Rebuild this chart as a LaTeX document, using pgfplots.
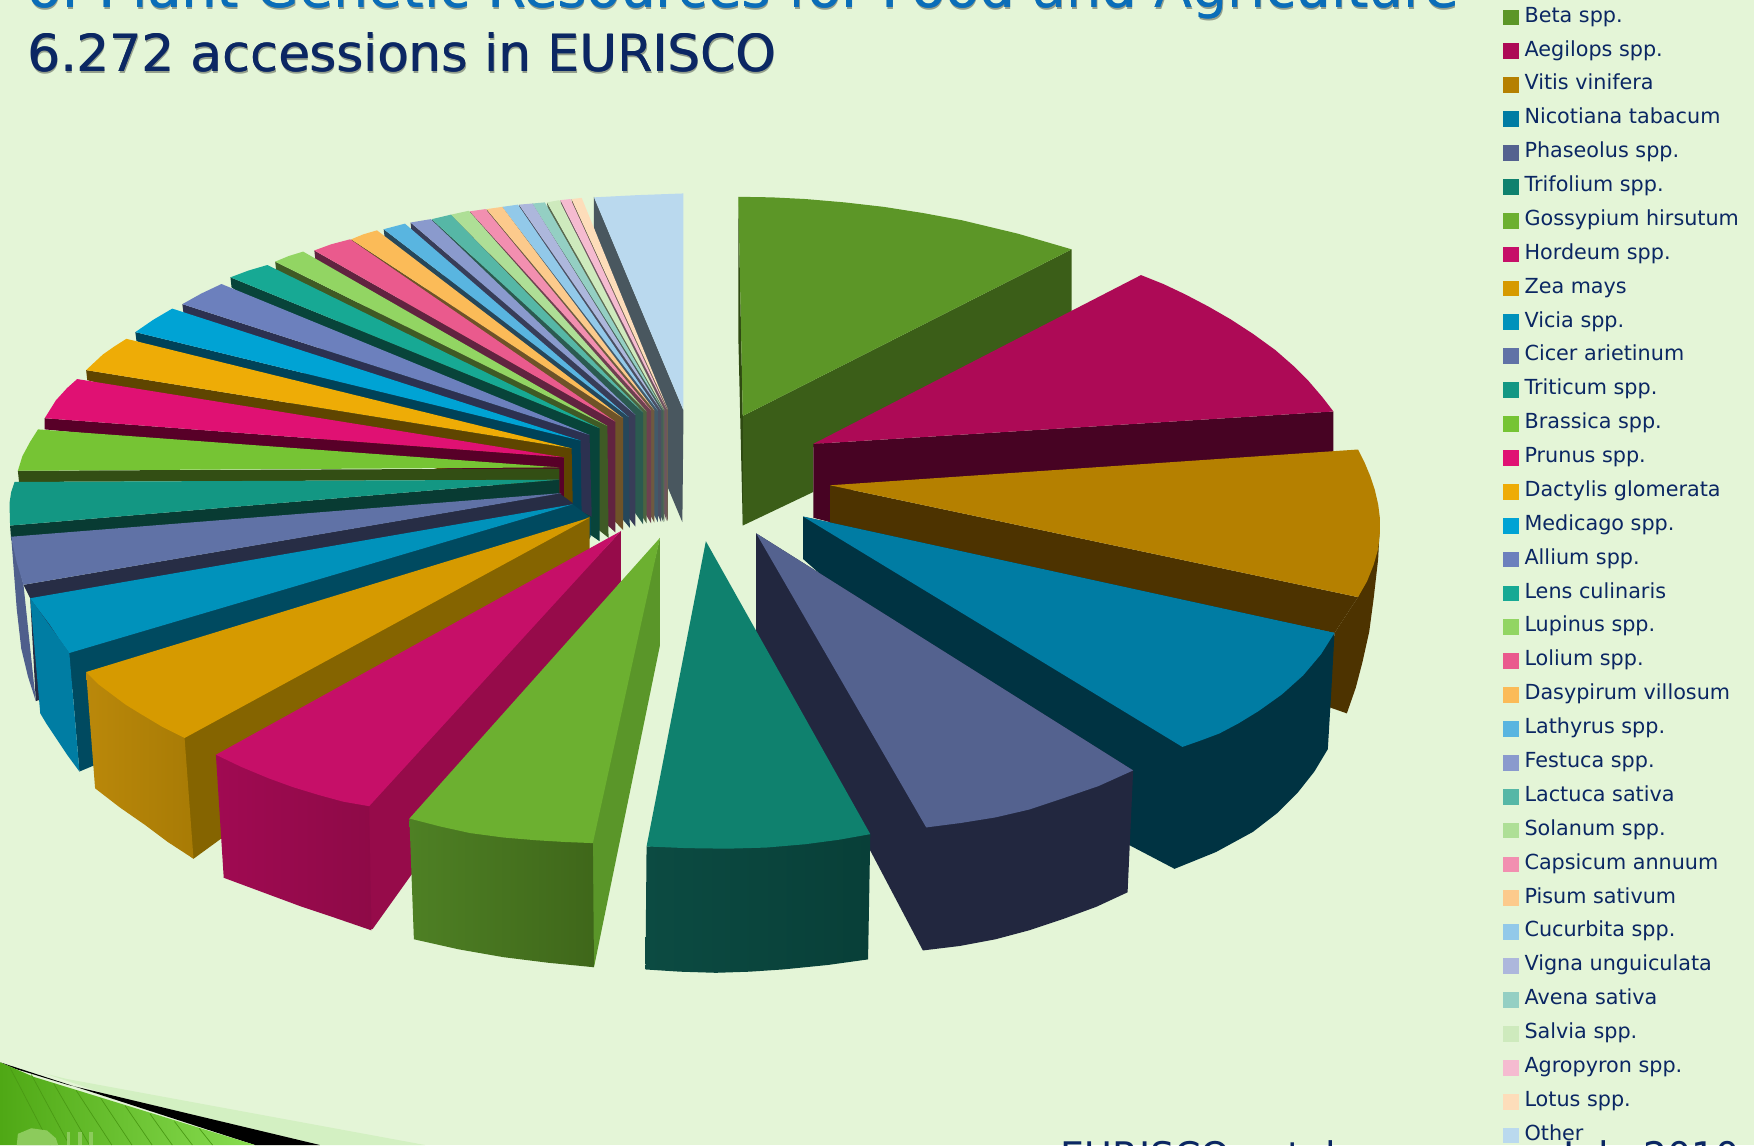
\documentclass[border=0pt]{standalone}
\usepackage{fontspec}
\setmainfont{DejaVu Sans}
\usepackage{pgfplots}
\pgfplotsset{compat=1.18}
\definecolor{bg}{HTML}{E4F5D7}
\definecolor{txt}{HTML}{0B2763}
\definecolor{ttop}{HTML}{0A6DB8}
\definecolor{orA}{HTML}{D3F0C2}\definecolor{orB}{HTML}{4FA815}\definecolor{orC}{HTML}{88DD50}\definecolor{orD}{HTML}{8CCB5C}\definecolor{orE}{HTML}{4A9A14}\definecolor{dBetb}{HTML}{2F4A12}
\definecolor{cBeta}{HTML}{5C9627}\definecolor{dBeta}{HTML}{3B5E18}
\definecolor{cAeg}{HTML}{AD0A56}\definecolor{dAeg}{HTML}{470323}
\definecolor{cVit}{HTML}{B58000}\definecolor{dVit}{HTML}{4D3300}
\definecolor{cNic}{HTML}{007CA3}\definecolor{dNic}{HTML}{003342}
\definecolor{cPha}{HTML}{54628F}\definecolor{dPha}{HTML}{22273F}
\definecolor{cTri}{HTML}{0F816E}\definecolor{dTriA}{HTML}{0C4B42}\definecolor{dTriB}{HTML}{083F38}
\definecolor{cGos}{HTML}{6CB030}\definecolor{sGos}{HTML}{5A9629}\definecolor{dGosA}{HTML}{4E8024}\definecolor{dGosB}{HTML}{3F671A}
\definecolor{cHor}{HTML}{C60F68}\definecolor{sHor}{HTML}{960B4A}\definecolor{dHorA}{HTML}{A00A52}\definecolor{dHorB}{HTML}{8E0A47}
\definecolor{cZea}{HTML}{D69A00}\definecolor{sZea}{HTML}{856400}\definecolor{dZeaA}{HTML}{BA880A}\definecolor{dZeaB}{HTML}{A87B05}
\definecolor{cVic}{HTML}{0092BB}\definecolor{sVic}{HTML}{004A60}\definecolor{dVic}{HTML}{007DA3}
\definecolor{cCic}{HTML}{6072A6}\definecolor{sCic}{HTML}{272D45}\definecolor{dCic}{HTML}{4F5F8C}
\definecolor{cTrt}{HTML}{139783}\definecolor{sTrt}{HTML}{083B33}
\definecolor{cBra}{HTML}{76C434}\definecolor{sBra}{HTML}{334E14}
\definecolor{cPru}{HTML}{E01173}\definecolor{sPru}{HTML}{580028}
\definecolor{cDac}{HTML}{EEAC06}\definecolor{sDac}{HTML}{5F4500}
\definecolor{cMed}{HTML}{00A3D4}\definecolor{sMed}{HTML}{004258}
\definecolor{cAll}{HTML}{6C80BD}\definecolor{sAll}{HTML}{2C3150}
\definecolor{cLen}{HTML}{17A994}\definecolor{sLen}{HTML}{08443A}
\definecolor{cLup}{HTML}{92D563}\definecolor{sLup}{HTML}{3F5A25}
\definecolor{cLol}{HTML}{EA5A8D}\definecolor{sLol}{HTML}{612340}
\definecolor{cDas}{HTML}{FBBB58}\definecolor{sDas}{HTML}{6E5328}
\definecolor{cLat}{HTML}{59B5E0}\definecolor{sLat}{HTML}{26475A}
\definecolor{cFes}{HTML}{8A9ACD}\definecolor{sFes}{HTML}{383D58}
\definecolor{cLac}{HTML}{56B7A6}\definecolor{sLac}{HTML}{2B5A50}
\definecolor{cSol}{HTML}{AEDF96}\definecolor{sSol}{HTML}{4B6440}
\definecolor{cCap}{HTML}{F28FB0}\definecolor{sCap}{HTML}{6E4150}
\definecolor{cPis}{HTML}{FCCA8C}\definecolor{sPis}{HTML}{6E5A40}
\definecolor{cCuc}{HTML}{92C9E9}\definecolor{sCuc}{HTML}{425A6A}
\definecolor{cVig}{HTML}{ADB7DC}\definecolor{sVig}{HTML}{4A4F62}
\definecolor{cAve}{HTML}{94CFC3}\definecolor{sAve}{HTML}{455F58}
\definecolor{cSal}{HTML}{CEEABD}\definecolor{sSal}{HTML}{5A6A50}
\definecolor{cAgr}{HTML}{F5BBD0}\definecolor{sAgr}{HTML}{6E5560}
\definecolor{cLot}{HTML}{FDDDBA}\definecolor{sLot}{HTML}{6E6050}
\definecolor{cOth}{HTML}{BAD9EE}\definecolor{sOth}{HTML}{49575F}
\newcommand{\poly}[2]{\addplot[draw=none,fill=#1] coordinates {#2};}
\newcommand{\wall}[3]{\addplot[draw=none,left color=#1,right color=#2] coordinates {#3};}
\newcommand{\hatch}[1]{\addplot[orE,line width=0.35pt,no markers] coordinates {#1};}
\newcommand{\leg}[3]{\addplot[only marks,mark=square*,mark size=3.7pt,color=#1,mark options={draw=none,fill=#1}] coordinates {(1350.5,#2)};
  \node[anchor=base west,inner sep=0pt,text=txt,font=\fontsize{10.37}{12}\selectfont] at (axis cs:1362.5,#2+4.3) {#3};}
\begin{document}
\begin{tikzpicture}
\useasboundingbox (0,0) rectangle (877pt,572.5pt);
\clip (0,0) rectangle (877pt,572.5pt);
\begin{axis}[at={(0,0)},anchor=south west,scale only axis,width=877pt,height=572.5pt,
  xmin=0,xmax=1568,ymin=0,ymax=1024,y dir=reverse,hide axis,clip=false]
% background
\poly{bg}{(0,0)(1568,0)(1568,1024)(0,1024)}
% lower-left corner ornament
\poly{orA}{(40,960)(60,965)(380,1024)(230,1024)}
\poly{black}{(0,950)(14,956)(60,970)(286,1024)(228,1024)}
\wall{orB}{orC}{(0,950)(30,963)(228,1024)(0,1024)}
\hatch{(8,953)(45,1024)}\hatch{(28,961)(62,1024)}\hatch{(48,969)(80,1024)}\hatch{(68,975)(100,1024)}
\hatch{(90,982)(118,1024)}\hatch{(112,989)(136,1024)}\hatch{(134,996)(154,1024)}\hatch{(156,1003)(172,1024)}\hatch{(178,1009)(190,1024)}
\poly{orD}{(15,1024)(16,1014)(28,1009)(42,1011)(50,1018)(52,1024)}
\poly{orD}{(60,1024)(60,1012)(63,1012)(63,1024)}
\poly{orD}{(70,1024)(70,1012)(73,1012)(73,1024)}
\poly{orD}{(80,1024)(80,1012)(83,1012)(83,1024)}
% Other
\poly{sOth}{(531,176)(611,367)(610,467)(597,436)(531,204)}
\poly{cOth}{(531,176.5)(570,174.5)(611,173)(611,367)}
% small wedges: dark face then top
\poly{sLot}{(597,366)(597,466)(512,190)(511,178)}\poly{cLot}{(597,366)(511,178)(520,177)}
\poly{sAgr}{(596,366)(596,466)(502,190)(501,179)}\poly{cAgr}{(596,366)(501,179)(510,178)}
\poly{sSal}{(594,367)(594,466.5)(490,192)(489,181)}\poly{cSal}{(594,367)(489,181)(500,179)}
\poly{sAve}{(593,367)(593,467)(477,192)(476,182)}\poly{cAve}{(593,367)(476,182)(487,181)}
\poly{sVig}{(591,367)(591,467)(465,193)(464,183)}\poly{cVig}{(591,367)(464,183)(476,182)}
\poly{sCuc}{(588,367)(588,467)(450,195)(449,185)}\poly{cCuc}{(588,367)(449,185)(463,183)}
\poly{sPis}{(585,367)(585,467.5)(436,197)(435,187)}\poly{cPis}{(585,367)(435,187)(449,185)}
\poly{sCap}{(582,367)(582,468)(421,199)(420,189)}\poly{cCap}{(582,367)(420,189)(434,187)}
\poly{sSol}{(578,368)(578,468)(404,201)(403,192)}\poly{cSol}{(578,368)(403,192)(419,188.5)}
\poly{sLac}{(575,369)(575,469)(387,205)(386,196)}\poly{cLac}{(575,369)(386,196)(403,192)}
\poly{sFes}{(568,371)(568,471)(368,208)(367,199)}\poly{cFes}{(568,371)(367,199)(385,196)}
\poly{sLat}{(562,373)(563,472)(344,214)(343,205)}\poly{cLat}{(562,373)(343,205)(362,200)}
\poly{sDas}{(557,374)(557,474)(315,223)(314,214)}\poly{cDas}{(557,374)(314,214)(325,209.5)(337,206)}
\poly{sLol}{(550,377)(550,476)(282,233)(281,224)}\poly{cLol}{(550,377)(281,224)(296,218.5)(313,214)}
\poly{sLup}{(543,381)(544,481)(247,243)(246,234)}\poly{cLup}{(543,381)(246,234)(258,229)(271,225)}
\poly{sLen}{(536,383)(536,484)(207,257)(206,248)}\poly{cLen}{(536,383)(206,248)(222,242)(239,237)}
\poly{sAll}{(527,389)(529,462)(164,280)(163,272)}\poly{cAll}{(527,389)(163,272)(180,262.5)(198,254)}
\poly{sMed}{(519,394)(520,465)(122,305)(121,297)}\poly{cMed}{(519,394)(121,297)(137,286)(154,276)}
\poly{sDac}{(511,401)(512,450)(78,340)(77,331)}\poly{cDac}{(511,401)(77,331)(92,317)(102,310)(113,303)}
\poly{sPru}{(504,409)(504,450)(500,450)(500,429)(40,384)(40,374)}\poly{cPru}{(504,409)(40,374)(50,358)(60,347)(69,339)}
\poly{sBra}{(500,419)(500,429)(17,431)(16,421)}\poly{cBra}{(500,418)(16,421)(20,408)(27,395)(34,384)}
\poly{sTrt}{(500,429)(500,445)(10,483)(9,470)}\poly{cTrt}{(500,429)(9,470)(8.5,450)(10,440)(13,431)}
% Cicer
\poly{sCic}{(500,441)(512,450)(512,470)(32,627)(27,535)(21,523)}
\poly{dCic}{(10,480)(21,523)(32,627)(25,605)(19,580)(15,545)}
\poly{cCic}{(502,441)(21,523)(15,503)(12,490)(10,480)}
% Vicia
\poly{sVic}{(512,451)(528,463)(528,480)(512,505)(71,690)(62,584)}
\poly{dVic}{(27,535)(62,584)(71,690)(60,675)(50,660)(42,648)(36,638)}
\poly{cVic}{(512,451)(62,584)(52,570)(44,558)(35,546)(27,535)}
% Zea
\poly{sZea}{(527,462)(527,510)(173,768)(168,764)(160,660)}
\wall{dZeaA}{dZeaB}{(77,601)(165,660)(173,768)(150,753)(130,738)(107,722)(85,705)}
\poly{cZea}{(527,463)(165,660)(145,650)(125,638)(112,630)(100,621)(88,612)(77,601)}
% Hordeum
\poly{sHor}{(555,475)(555,520)(333,831)(325,829)(325,721)}
\wall{dHorA}{dHorB}{(193,675)(330,721)(332,832)(300,821)(270,811)(235,798)(200,785)}
\poly{cHor}{(555,475)(330,721)(307,717)(285,711)(262,704)(240,696)(216,686)(193,675)}
% Gossypium
\poly{sGos}{(590,481)(590,577)(531,865)(525,864)(525,754)}
\wall{dGosA}{dGosB}{(366,732)(530,754)(531,865)(490,861)(450,856)(410,849)(370,840)}
\poly{cGos}{(590,481)(530,754)(505,753)(480,751.5)(450,749)(420,745)(393,739)(366,732)}
% Beta
\poly{dBeta}{(664,372)(958,223)(958,307)(727,400)(727,440)(664,470)}
\poly{dBetb}{(660,176)(664,372)(664,470)(660,300)}
\poly{cBeta}{(664,372)(660,176)(690,176.5)(720,178)(755,181)(790,185)(825,190.5)(860,197)(910,209)(958,223)}
% Aegilops
\poly{dAeg}{(727,397)(1192,368)(1192,405)(742,440)(742,467)(727,463)}
\poly{cAeg}{(727,397)(1020,246)(1040,254)(1060,263.5)(1080,274)(1100,285.5)(1120,298.5)(1140,313)(1156,327)(1170,341)(1182,355)(1192,368)}
% Vitis
\poly{dVit}{(742,434)(1214,534)(1193,566)(742,470)}
\poly{dVit}{(1233.5,470)(1232,500)(1228,535)(1224,565)(1218,592)(1212,615)(1204,638)(1187,632)(1193,566)(1214,534)}
\poly{cVit}{(742,434)(1214,402)(1220,414)(1225,426)(1229,438)(1232,451)(1233.5,463)(1233.5,477)(1232,491)(1228,505)(1222,520)(1214,534)}
% Nicotiana
\poly{dNic}{(718,462)(1193,566)(1190,620)(1187,670)(1175,690)(1160,709)(1142,727)(1120,744)(1087,762)(1050,777)(1008,755)(718,500)}
\poly{cNic}{(718,462)(1193,566)(1181,585)(1165,604)(1146,621)(1125,636)(1107,647)(1090,656)(1074,662)(1057,668)}
% Phaseolus
\poly{dPha}{(676,477)(1013,689)(1008,798)(980,811)(950,822)(920,832)(890,840)(858,846)(825,850)(676,567)}
\poly{cPha}{(676,477)(1013,689)(982,703)(950,714)(920,724)(890,731)(859,736)(828,740)}
% Trifolium
\wall{dTriA}{dTriB}{(578,757)(778,746)(776,858)(740,863)(700,867)(670,869)(640,870)(608,869)(577,867)}
\poly{cTri}{(631,484)(778,746)(750,751)(720,755)(685,758)(650,759)(614,758.5)(578,757)}
% legend
\leg{cBeta}{15.5}{Beta spp.}
\leg{cAeg}{45.8}{Aegilops spp.}
\leg{cVit}{76.1}{Vitis vinifera}
\leg{cNic}{106.4}{Nicotiana tabacum}
\leg{cPha}{136.7}{Phaseolus spp.}
\leg{cTri}{167}{Trifolium spp.}
\leg{cGos}{197.3}{Gossypium hirsutum}
\leg{cHor}{227.6}{Hordeum spp.}
\leg{cZea}{257.9}{Zea mays}
\leg{cVic}{288.2}{Vicia spp.}
\leg{cCic}{318.5}{Cicer arietinum}
\leg{cTrt}{348.8}{Triticum spp.}
\leg{cBra}{379.1}{Brassica spp.}
\leg{cPru}{409.4}{Prunus spp.}
\leg{cDac}{439.7}{Dactylis glomerata}
\leg{cMed}{470}{Medicago spp.}
\leg{cAll}{500.3}{Allium spp.}
\leg{cLen}{530.6}{Lens culinaris}
\leg{cLup}{560.9}{Lupinus spp.}
\leg{cLol}{591.2}{Lolium spp.}
\leg{cDas}{621.5}{Dasypirum villosum}
\leg{cLat}{651.8}{Lathyrus spp.}
\leg{cFes}{682.1}{Festuca spp.}
\leg{cLac}{712.4}{Lactuca sativa}
\leg{cSol}{742.7}{Solanum spp.}
\leg{cCap}{773}{Capsicum annuum}
\leg{cPis}{803.3}{Pisum sativum}
\leg{cCuc}{833.6}{Cucurbita spp.}
\leg{cVig}{863.9}{Vigna unguiculata}
\leg{cAve}{894.2}{Avena sativa}
\leg{cSal}{924.5}{Salvia spp.}
\leg{cAgr}{954.8}{Agropyron spp.}
\leg{cLot}{985.1}{Lotus spp.}
\leg{cOth}{1015.4}{Other}
% titles
\node[anchor=base west,inner sep=0pt,text=black!35!bg,font=\fontsize{25.6}{28}\selectfont] at (axis cs:25.5,65.5) {6.272 accessions in EURISCO};
\node[anchor=base west,inner sep=0pt,text=txt,font=\fontsize{25.6}{28}\selectfont] at (axis cs:24.6,63.5) {6.272 accessions in EURISCO};
\node[anchor=base west,inner sep=0pt,text=txt,font=\fontsize{25.6}{28}\selectfont] at (axis cs:25.2,63.5) {6.272 accessions in EURISCO};
\node[anchor=base west,inner sep=0pt,text=black!35!bg,font=\fontsize{27.7}{30}\selectfont] at (axis cs:25.5,8.5) {of Plant Genetic Resources for Food and Agriculture};
\node[anchor=base west,inner sep=0pt,text=ttop,font=\fontsize{27.7}{30}\selectfont] at (axis cs:24.6,6.5) {of Plant Genetic Resources for Food and Agriculture};
\node[anchor=base west,inner sep=0pt,text=ttop,font=\fontsize{27.7}{30}\selectfont] at (axis cs:25.2,6.5) {of Plant Genetic Resources for Food and Agriculture};
\node[anchor=base west,inner sep=0pt,text=txt,font=\fontsize{19}{22}\selectfont] at (axis cs:948,1046) {EURISCO catalogue};
\node[anchor=base east,inner sep=0pt,text=txt,font=\fontsize{19}{22}\selectfont] at (axis cs:1556,1046) {July 2010};
\end{axis}
\end{tikzpicture}
\end{document}
